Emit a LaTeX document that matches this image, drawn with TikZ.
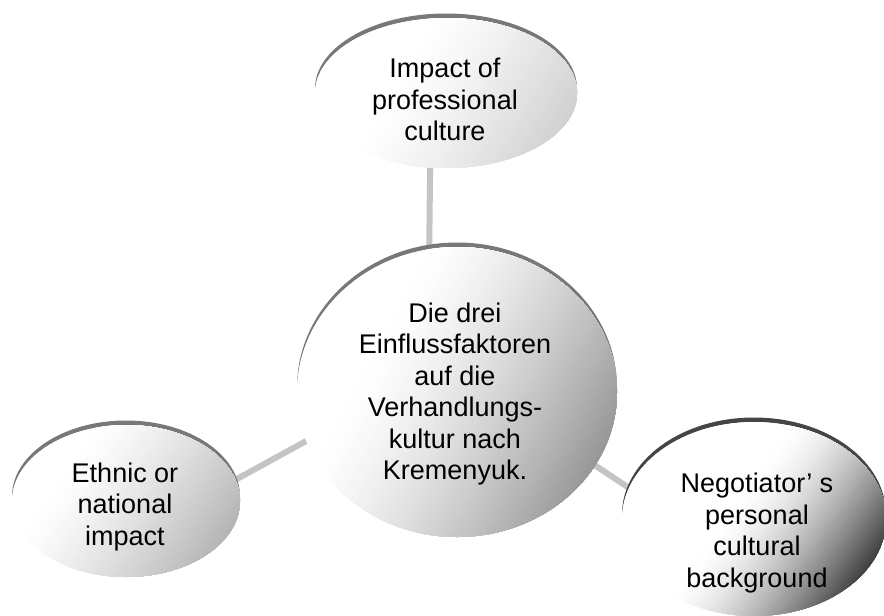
\documentclass[tikz,border=0pt]{standalone}
\usepackage{fontspec}
\setmainfont{Liberation Sans}
\usetikzlibrary{shapes.geometric,backgrounds}

\definecolor{rimgray}{HTML}{787878}
\definecolor{rimdark}{HTML}{454545}
\definecolor{linkgray}{HTML}{C4C4C4}

% dark upper rim: the crescent between the body's top arc and the same arc raised by 4.5
\newcommand\toprim[5]{%
  \fill[#5] (#1-#3,#2-4.5) arc[start angle=180, end angle=360, x radius=#3, y radius=#4]
    -- (#1+#3,#2) arc[start angle=0, end angle=-180, x radius=#3, y radius=#4] -- cycle;}

% gradient body built from stacked solid bands
% #1,#2 centre  #3,#4 radii  #5 direction  #6 start of darkening (0..1)
% #7 final black percentage  #8 curve exponent
\newcommand\gradbody[8]{%
  \begin{scope}
    \clip (#1,#2) ellipse [x radius=#3, y radius=#4];
    \fill[white] (#1-#3-2,#2-#4-2) rectangle (#1+#3+2,#2+#4+2);
    \begin{scope}[rotate around={#5:(#1,#2)}]
      \foreach \k in {0,...,48}{
        \pgfmathsetmacro\tpos{#6+(1-#6)*\k/48}
        \pgfmathsetmacro\pct{#7*(\k/48)^#8}
        \fill[black!\pct] (#1-#3+2*#3*\tpos,#2-1.4*#3) rectangle (#1+1.4*#3,#2+1.4*#3);
      }
    \end{scope}
  \end{scope}}

\tikzset{
  bubble/.style={ellipse, inner sep=0pt, draw=none},
  caption/.style={align=center, inner sep=0pt,
    font=\fontsize{27}{31.5}\selectfont},
  link/.style={draw=linkgray, line width=6pt}
}

\begin{document}
\begin{tikzpicture}[x=1pt,y=-1pt]
\useasboundingbox (0,0) rectangle (884,616);
\clip (0,0) rectangle (884,616);

% rims under the bubbles
\toprim{446}{93}{131}{75}{rimgray}
\toprim{457}{392}{160}{145}{rimgray}
\toprim{126}{501}{114}{76}{rimgray}
\toprim{754}{519}{132}{97}{rimdark}

% shaded bodies
\gradbody{446}{93}{131}{75}{-30}{0.3}{20}{1.3}
\gradbody{457}{392}{160}{145}{-28}{0.2}{42}{1.4}
\gradbody{126}{501}{114}{76}{-35}{0.2}{32}{1.3}
\gradbody{754}{519}{132}{97}{-35}{0.4}{85}{1.6}

% bubble outlines (anchors for the connectors)
\node[bubble, minimum width=262pt, minimum height=150pt] (prof) at (446,93) {};
\node[bubble, minimum width=320pt, minimum height=290pt] (mid) at (457,392) {};
\node[bubble, minimum width=228pt, minimum height=152pt] (ethn) at (126,501) {};
\node[bubble, minimum width=264pt, minimum height=194pt] (pers) at (754,519) {};

% captions
\node[caption] (profT) at (445,99.5) {Impact of\\professional\\culture};
\node[caption] (midT) at (455,394) {Die drei\\Einflussfaktoren\\auf die\\Verhandlungs-\\kultur nach\\Kremenyuk.};
\node[caption] (ethnT) at (125,507) {Ethnic or\\national\\impact};
\node[caption] (persT) at (757,533) {Negotiator’ s\\personal\\cultural\\background};

% connectors behind the bubbles
\begin{pgfonlayer}{background}
  \draw[link] (prof.258) -- (mid.101);
  \draw[link] (ethn.11) -- (mid.198);
  \draw[link] (mid.332) -- (pers.166);
\end{pgfonlayer}
\end{tikzpicture}
\end{document}
